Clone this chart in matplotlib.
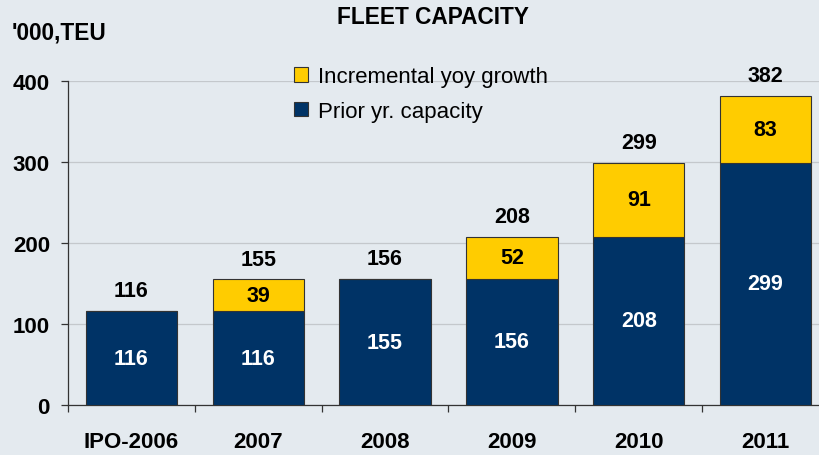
import numpy as np
import matplotlib.pyplot as plt

# fleet capacity, '000 TEU
years = ['IPO-2006', '2007', '2008', '2009', '2010', '2011']
prior = [116, 116, 155, 156, 208, 299]
growth = [0, 39, 1, 52, 91, 83]
totals = [116, 155, 156, 208, 299, 382]

navy = '#003366'
yellow = '#ffcc00'
bg = '#e4eaef'

plt.rcParams['font.family'] = ['Liberation Sans', 'DejaVu Sans']

fig = plt.figure(figsize=(8.2, 4.56), dpi=100, facecolor=bg)
ax = fig.add_axes([0.0829, 0.1096, 0.928, 0.7105])
ax.set_facecolor(bg)

x = np.arange(len(years))
w = 0.72
b1 = ax.bar(x, prior, w, color=navy, edgecolor='#333333', linewidth=0.8,
            label='Prior yr. capacity', zorder=3)
b2 = ax.bar(x, growth, w, bottom=prior, color=yellow, edgecolor='#333333',
            linewidth=0.8, label='Incremental yoy growth', zorder=3)

for i in range(len(years)):
    ax.text(x[i], prior[i] / 2, str(prior[i]), ha='center', va='center',
            color='white', fontsize=15.5, fontweight='bold', zorder=4)
    if growth[i] > 5:
        ax.text(x[i], prior[i] + growth[i] / 2, str(growth[i]), ha='center',
                va='center', color='black', fontsize=15.5, fontweight='bold', zorder=4)
    ax.annotate(str(totals[i]), (x[i], totals[i]), xytext=(0, 7),
                textcoords='offset points', ha='center', va='bottom',
                fontsize=15.5, fontweight='bold')

ax.set_xlim(-0.5, len(years) - 0.5)
ax.set_ylim(0, 400)
ax.set_yticks([0, 100, 200, 300, 400])
ax.yaxis.grid(True, color='#c4c8cc', linewidth=0.9, zorder=0)
ax.set_axisbelow(True)

ax.set_xticks(x)
ax.set_xticklabels(years, fontsize=16, fontweight='bold')
ax.set_xticks(np.arange(len(years) + 1) - 0.5, minor=True)
ax.tick_params(axis='x', which='major', length=0, pad=19)
ax.tick_params(axis='x', which='minor', length=5, width=0.9, color='#333333')
ax.tick_params(axis='y', length=5, width=0.9, pad=8, color='#333333', labelsize=16)
for lab in ax.get_yticklabels():
    lab.set_fontweight('bold')

for s in ['top', 'right']:
    ax.spines[s].set_visible(False)
for s in ['left', 'bottom']:
    ax.spines[s].set_color('#333333')
    ax.spines[s].set_linewidth(0.9)

ax.legend(handles=[b2, b1], loc='upper left', bbox_to_anchor=(274 / 820, 1 - 47 / 456),
          bbox_transform=fig.transFigure, frameon=False, fontsize=16,
          handlelength=0.65, handleheight=0.65, handletextpad=0.45, labelspacing=0.62)

fig.text(433 / 820, 1 - 17 / 456, 'FLEET CAPACITY', ha='center', va='center',
         fontsize=16.3, fontweight='bold')
fig.text(12 / 820, 1 - 33 / 456, "'000,TEU", ha='left', va='center',
         fontsize=16.3, fontweight='bold')

fig.savefig('out.png', dpi=100, facecolor=bg)
